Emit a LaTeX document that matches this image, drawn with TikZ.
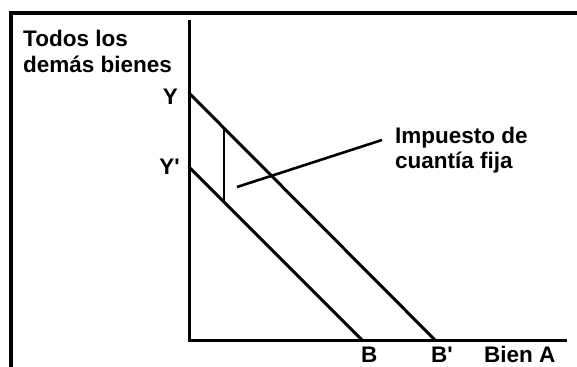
\documentclass[tikz,border=0pt]{standalone}
\usepackage{fontspec}
\setmainfont{Liberation Sans}
\begin{document}
\begin{tikzpicture}[x=1pt,y=-1pt,
  lbl/.style={font=\fontsize{22.5}{26}\selectfont\bfseries, inner sep=0pt, text=black},
  frameline/.style={line width=3.5pt, black},
  axisline/.style={line width=3pt, black},
  budget/.style={line width=3pt, black, line cap=round},
  thin/.style={line width=2.6pt, black}]
\useasboundingbox (0,0) rectangle (577,366);
\fill[white] (0,0) rectangle (577,366);
% frame
\coordinate (f1) at (11,372);
\coordinate (f2) at (11,13);
\coordinate (f3) at (582,13);
\draw[frameline] (f1) -- (f2) -- (f3);
% axes
\coordinate (ytop) at (189,20);
\coordinate (O) at (189,340);
\coordinate (xend) at (567,340);
\draw[axisline] (ytop) -- (O) -- (xend);
% budget lines
\coordinate (Y) at (189,93);
\coordinate (Yp) at (189,167);
\coordinate (B) at (362,340);
\coordinate (Bp) at (435,340);
\draw[budget] (Y) -- (Bp);
\draw[budget] (Yp) -- (B);
% tax segment
\coordinate (tt) at (224,128);
\coordinate (tb) at (224,202);
\draw[thin] (tt) -- (tb);
% leader
\coordinate (ls) at (237,187);
\coordinate (le) at (382,140);
\draw[thin] (ls) -- (le);
% labels
\node[lbl, anchor=base west] (t1) at (23,47) {Todos los};
\node[lbl, anchor=base west] (t2) at (23,73) {demás bienes};
\node[lbl, anchor=base east] (lY) at (178,105) {Y};
\node[lbl, anchor=base east] (lYp) at (180,174) {Y\textquotesingle};
\node[lbl, anchor=base west] (lB) at (361,362) {B};
\node[lbl, anchor=base west] (lBp) at (431,362) {B\textquotesingle};
\node[lbl, anchor=base west] (lA) at (484,362) {Bien A};
\node[lbl, anchor=base west] (i1) at (395,143) {Impuesto de};
\node[lbl, anchor=base west] (i2) at (395,168) {cuantía fija};
\end{tikzpicture}
\end{document}
